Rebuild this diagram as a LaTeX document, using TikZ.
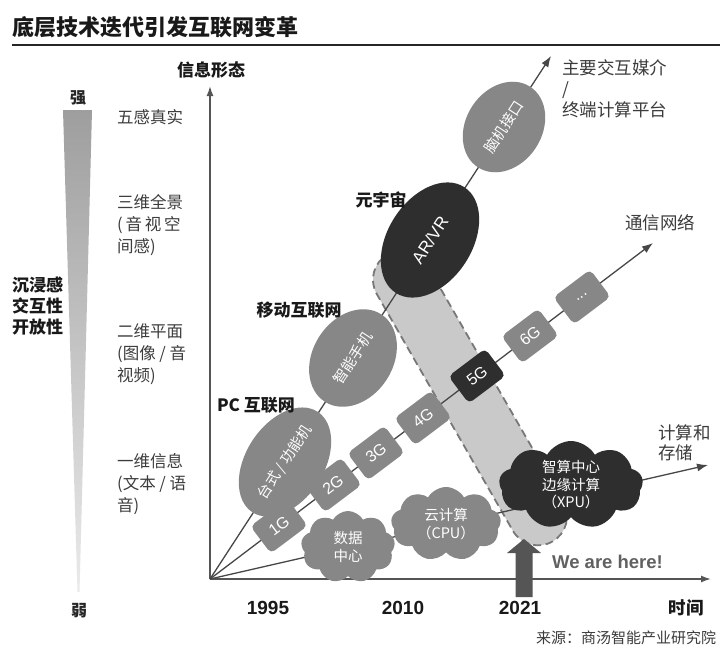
\documentclass[tikz,border=0pt]{standalone}
\usepackage{fontspec}
\setmainfont{Liberation Sans}
\newfontfamily\cjk{Noto Sans CJK SC}
\usetikzlibrary{arrows.meta,shapes.geometric,shapes.symbols}
\definecolor{midgray}{HTML}{878787}
\definecolor{darknode}{HTML}{2E2E2E}
\definecolor{linegray}{HTML}{474747}
\definecolor{axisgray}{HTML}{555555}
\definecolor{textgray}{HTML}{3C3C3C}
\definecolor{pillfill}{HTML}{C9C9C9}
\definecolor{pilledge}{HTML}{787878}
\newcommand{\setfs}[2]{\fontsize{#1}{#2}\selectfont}
\begin{document}
\begin{tikzpicture}[x=1pt,y=-1pt,
  lbl/.style={inner sep=0pt, anchor=west, align=left, text=textgray, font=\cjk\setfs{16.5}{22}},
  boldlbl/.style={inner sep=0pt, text=black!90, font=\cjk\bfseries\setfs{17}{21}},
  yearlbl/.style={inner sep=0pt, text=black!90, font=\bfseries\setfs{19}{19}},
  conn/.style={draw=linegray, line width=1.3pt},
  connarrow/.style={conn, -{Latex[length=11pt,width=8pt]}},
  axisline/.style={draw=axisgray, line width=1.6pt, -{Latex[length=10pt,width=7pt]}},
  ovalnode/.style={ellipse, inner sep=0pt, rotate=57, fill=midgray, text=white, font=\cjk\setfs{14.5}{16}},
  gbox/.style={rectangle, rounded corners=5pt, inner sep=0pt, minimum width=46pt, minimum height=34pt, rotate=37, fill=midgray, text=white, font=\setfs{16}{16}},
  cloudnode/.style={cloud, cloud puffs=9, cloud puff arc=120, cloud ignores aspect, inner sep=0pt, fill=midgray, text=white, align=center, font=\cjk\setfs{14.5}{17.5}},
  pill/.style={rectangle, rounded corners=29pt, minimum width=331pt, minimum height=58pt, rotate=-60.1, fill=pillfill, draw=pilledge, line width=1.8pt, dash pattern=on 8pt off 4.5pt}
]
\useasboundingbox (0,0) rectangle (720,648);
\fill[white] (0,0) rectangle (720,648);

% title and rule
\node[inner sep=0pt, anchor=west, text=black!90, font=\cjk\bfseries\setfs{22}{22}] (title) at (12,27) {底层技术迭代引发互联网变革};
\draw[line width=2.6pt, black!85] (12,45) -- (720,45);

% left wedge
\shade[top color=black!38, bottom color=black!8] (63,110) -- (92,110) -- (79.5,592) -- (77.5,592) -- cycle;
\node[inner sep=0pt, text=black!85, font=\cjk\bfseries\setfs{16}{16}] (strong) at (78,98) {强};
\node[inner sep=0pt, text=black!85, font=\cjk\bfseries\setfs{16}{16}] (weak) at (79,611) {弱};
\node[boldlbl, anchor=west, align=left] (immersion) at (12,306) {沉浸感\\交互性\\开放性};

% info-form labels
\node[lbl] (l5) at (117,117) {五感真实};
\node[lbl] (l3) at (117,225) {三维全景\\(\hspace{0.17em}音\hspace{0.17em}视\hspace{0.17em}空\\间感)};
\node[lbl] (l2) at (117,354) {二维平面\\(图像 / 音\\视频)};
\node[lbl] (l1) at (117,484) {一维信息\\(文本 / 语\\音)};

% highlight pill
\node[pill] (hl) at (470,398) {};

% axes
\coordinate (O) at (210,579);
\coordinate (ytip) at (210,86);
\coordinate (xtip) at (711,579);
\draw[axisline] (O) -- (ytip);
\draw[axisline] (O) -- (xtip);
\node[boldlbl] (yaxis) at (211,70) {信息形态};

% connector end points
\coordinate (t1) at (551,56);
\coordinate (t2) at (653,243);
\coordinate (t3) at (708,465);
\draw[connarrow] (O) -- (t1);
\draw[connarrow] (O) -- (t2);
\draw[connarrow] (O) -- (t3);

% terminal line nodes
\node[ovalnode, minimum width=114pt, minimum height=78pt] (pc) at (285,462) {台式 / 功能机};
\node[ovalnode, minimum width=104pt, minimum height=80pt] (phone) at (353,358) {智能手机};
\node[ovalnode, minimum width=126pt, minimum height=84pt, fill=darknode, font=\setfs{17}{17}] (arvr) at (430,240) {AR/VR};
\node[ovalnode, minimum width=96pt, minimum height=76pt] (bci) at (504,127) {脑机接口};

% network boxes
\node[gbox] (g1) at (279,526) {1G};
\node[gbox] (g2) at (333,485) {2G};
\node[gbox] (g3) at (376,453) {3G};
\node[gbox] (g4) at (423,418) {4G};
\node[gbox, fill=darknode] (g5) at (477,376) {5G};
\node[gbox] (g6) at (530,336) {6G};
\node[gbox] (gmore) at (582,297) {...};

% clouds
\node[cloudnode, minimum width=94pt, minimum height=72pt] (dc) at (348,547) {数据\\中心};
\node[cloudnode, minimum width=110pt, minimum height=74pt] (cc) at (446,524) {云计算\\（CPU）};
\node[cloudnode, minimum width=144pt, minimum height=88pt, fill=darknode] (xpu) at (571,485) {智算中心\\边缘计算\\（XPU）};

% stage labels
\node[boldlbl] (meta) at (381,200) {元宇宙};
\node[boldlbl] (mobile) at (299,310) {移动互联网};
\node[boldlbl] (pcnet) at (256,405) {PC 互联网};

% right labels
\node[lbl, font=\cjk\setfs{17.5}{21}] (media) at (562,89) {主要交互媒介\\/\\终端计算平台};
\node[lbl, font=\cjk\setfs{17.5}{21}] (netw) at (625,223) {通信网络};
\node[lbl, font=\cjk\setfs{17.5}{20}] (comp) at (658,443) {计算和\\存储};

% we are here arrow
\fill[axisgray] (515.5,597) -- (515.5,553) -- (507,553) -- (524,539) -- (541,553) -- (532.5,553) -- (532.5,597) -- cycle;
\node[inner sep=0pt, anchor=west, text=black!62, font=\bfseries\setfs{18.5}{18.5}] (here) at (552,562) {We are here!};

% time labels
\node[yearlbl] (y1995) at (268,608) {1995};
\node[yearlbl] (y2010) at (403,608) {2010};
\node[yearlbl] (y2021) at (520,608) {2021};
\node[boldlbl, font=\cjk\bfseries\setfs{17.5}{17.5}] (time) at (686,608) {时间};

% source
\node[inner sep=0pt, anchor=west, text=textgray, font=\cjk\setfs{15}{15}] (src) at (536,638) {来源：商汤智能产业研究院};
\end{tikzpicture}
\end{document}
